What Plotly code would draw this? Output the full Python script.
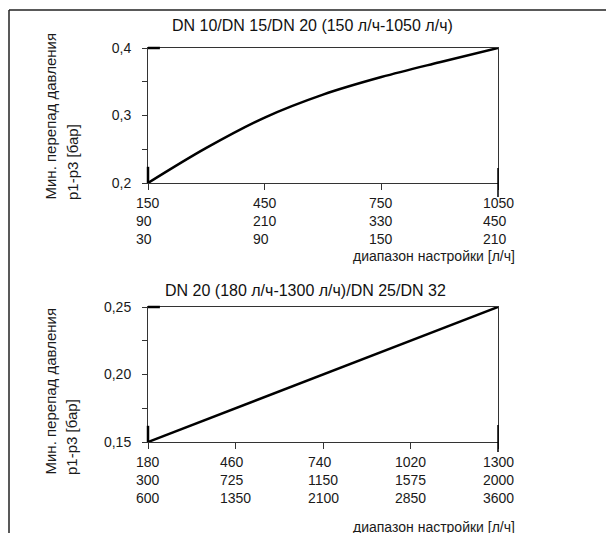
import plotly.graph_objects as go

# ---- data ----
top_x = [150, 300, 450, 600, 750, 900, 1050]
top_y = [0.200, 0.252, 0.297, 0.331, 0.357, 0.379, 0.400]
top_ticks = [150, 450, 750, 1050]
top_row2 = [90, 210, 330, 450]
top_row3 = [30, 90, 150, 210]

bot_x = [180, 460, 740, 1020, 1300]
bot_y = [0.150, 0.175, 0.200, 0.225, 0.250]
bot_ticks = [180, 460, 740, 1020, 1300]
bot_row2 = [300, 725, 1150, 1575, 2000]
bot_row3 = [600, 1350, 2100, 2850, 3600]

top_title = "DN 10/DN 15/DN 20 (150 л/ч-1050 л/ч)"
bot_title = "DN 20 (180 л/ч-1300 л/ч)/DN 25/DN 32"
ylab1 = "Мин. перепад давления"
ylab2 = "p1-p3 [бар]"
xlab = "диапазон настройки [л/ч]"

W, H = 614, 533
OFF = 8  # page body offset of the figure
FONT = "Liberation Sans"
AX = "#333333"
TXT = "#1a1a1a"


def px(x):
    return (x - OFF) / W


def py(y):
    return 1 - (y - OFF) / H


fig = go.Figure()
fig.add_trace(go.Scatter(x=top_x, y=top_y, mode="lines", line=dict(color="black", width=2.5, shape="spline"),
                         xaxis="x", yaxis="y", showlegend=False))
fig.add_trace(go.Scatter(x=bot_x, y=bot_y, mode="lines", line=dict(color="black", width=2.5),
                         xaxis="x2", yaxis="y2", showlegend=False))

xdom = [px(148), px(498)]
common_x = dict(showgrid=False, zeroline=False, showline=True, linecolor=AX, linewidth=1, mirror=True,
                ticks="outside", ticklen=6, tickcolor=AX, showticklabels=False, domain=xdom,
                automargin=False)
common_y = dict(showgrid=False, zeroline=False, showline=True, linecolor=AX, linewidth=1, mirror=True,
                ticks="outside", ticklen=5, tickcolor=AX, ticklabelstandoff=8, automargin=False,
                tickfont=dict(family=FONT, size=14, color=TXT))

fig.update_layout(
    width=W, height=H, margin=dict(l=0, r=0, t=0, b=0, autoexpand=False),
    paper_bgcolor="white", plot_bgcolor="white", separators=",.",
    font=dict(family=FONT, size=14, color=TXT),
    xaxis=dict(common_x, range=[top_ticks[0], top_ticks[-1]], tickvals=top_ticks, anchor="y"),
    yaxis=dict(common_y, range=[0.2, 0.4], dtick=0.1, tick0=0.2, tickformat=".1f",
               domain=[py(183), py(48)], anchor="x",
               minor=dict(ticks="outside", ticklen=5, dtick=0.05, tickcolor=AX)),
    xaxis2=dict(common_x, range=[bot_ticks[0], bot_ticks[-1]], tickvals=bot_ticks, anchor="y2"),
    yaxis2=dict(common_y, range=[0.15, 0.25], dtick=0.05, tick0=0.15, tickformat=".2f",
                domain=[py(442), py(307)], anchor="x2",
                minor=dict(ticks="outside", ticklen=5, dtick=0.025, tickcolor=AX)),
)

ann = []
for xa, ticks, r2, r3 in [("x", top_ticks, top_row2, top_row3), ("x2", bot_ticks, bot_row2, bot_row3)]:
    ya = "y domain" if xa == "x" else "y2 domain"
    for t, a, b in zip(ticks, r2, r3):
        ann.append(dict(x=t, xref=xa, y=0, yref=ya, yanchor="top", xanchor="center", align="left",
                        yshift=-10, showarrow=False, text=f"{t}<br>{a}<br>{b}",
                        font=dict(family=FONT, size=14, color=TXT)))

# titles
ann.append(dict(x=px(312), y=py(25), xref="paper", yref="paper", text=top_title, showarrow=False,
                font=dict(family=FONT, size=16, color="#111"), xanchor="center", yanchor="middle"))
ann.append(dict(x=px(305), y=py(290), xref="paper", yref="paper", text=bot_title, showarrow=False,
                font=dict(family=FONT, size=16, color="#111"), xanchor="center", yanchor="middle"))
# y titles
for yb in (202, 477):
    ann.append(dict(x=px(50), y=py(yb), xref="paper", yref="paper", text=ylab1, textangle=-90,
                    showarrow=False, xanchor="center", yanchor="bottom",
                    font=dict(family=FONT, size=15, color=TXT)))
    ann.append(dict(x=px(72), y=py(yb), xref="paper", yref="paper", text=ylab2, textangle=-90,
                    showarrow=False, xanchor="center", yanchor="bottom",
                    font=dict(family=FONT, size=15, color=TXT)))
# x titles
for yc in (256, 527):
    ann.append(dict(x=px(517), y=py(yc), xref="paper", yref="paper", text=xlab, showarrow=False,
                    xanchor="right", yanchor="middle", font=dict(family=FONT, size=14, color=TXT)))

fig.update_layout(annotations=ann)

shapes = [
    # outer frame (top and left edges)
    dict(type="line", xref="paper", yref="paper", x0=px(9), x1=1, y0=py(10), y1=py(10),
         line=dict(color="#222", width=1.5)),
    dict(type="line", xref="paper", yref="paper", x0=px(9), x1=px(9), y0=py(10), y1=0,
         line=dict(color="#222", width=1.5)),
]
# heavier corner strokes of the original drawing
for xr, yr, vlow, ext in [("x domain", "y domain", 0.12, (-0.104, 0.111)),
                          ("x2 domain", "y2 domain", 0.12, (-0.074, 0.126))]:
    shapes.append(dict(type="line", xref=xr, yref=yr, x0=0, x1=0.034, y0=1, y1=1,
                       line=dict(color="black", width=2.5)))
    shapes.append(dict(type="line", xref=xr, yref=yr, x0=0, x1=0, y0=0, y1=vlow,
                       line=dict(color="black", width=2.5)))
    shapes.append(dict(type="line", xref=xr, yref=yr, x0=1, x1=1, y0=ext[0], y1=ext[1],
                       line=dict(color="black", width=1.5)))
fig.update_layout(shapes=shapes)

fig.write_html("out.html")
